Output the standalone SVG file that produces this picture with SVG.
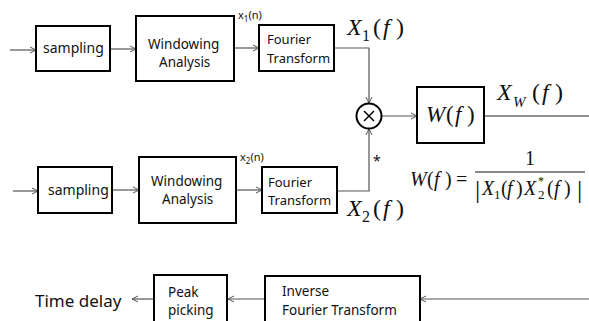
<svg xmlns="http://www.w3.org/2000/svg" width="589" height="321" viewBox="0 0 589 321">
<style>
.box{fill:#fff;stroke:#000;stroke-width:2}
.lbl{font-family:"Noto Sans","Open Sans",sans-serif;fill:#111}
.con{fill:none;stroke:#555;stroke-width:1.2}
.m{font-family:"Liberation Serif","Times New Roman",serif;fill:#111}
.i{font-style:italic}
</style>
<defs>
<marker id="ah" markerWidth="8" markerHeight="8" refX="7" refY="4" orient="auto" markerUnits="userSpaceOnUse">
<path d="M1,1 L7,4 L1,7" fill="none" stroke="#555" stroke-width="1"/>
</marker>
</defs>
<rect width="589" height="321" fill="#fff"/>
<g id="connectors">
<line class="con" x1="10" y1="50" x2="36" y2="50" marker-end="url(#ah)"/>
<line class="con" x1="110" y1="49" x2="136" y2="49" marker-end="url(#ah)"/>
<line class="con" x1="234" y1="48" x2="259" y2="48" marker-end="url(#ah)"/>
<polyline class="con" points="334,48 369,48 369,103" marker-end="url(#ah)"/>
<line class="con" x1="382" y1="116" x2="417" y2="116" marker-end="url(#ah)"/>
<line x1="484" y1="116" x2="589" y2="116" stroke="#222" stroke-width="1.2"/>
<line class="con" x1="13" y1="191" x2="38" y2="191" marker-end="url(#ah)"/>
<line class="con" x1="112" y1="190" x2="139" y2="190" marker-end="url(#ah)"/>
<line class="con" x1="236" y1="190" x2="262" y2="190" marker-end="url(#ah)"/>
<polyline class="con" points="337,191 369,191 369,129" marker-end="url(#ah)"/>
<line class="con" x1="589" y1="299" x2="420" y2="299" stroke="#888" marker-end="url(#ah)"/>
<line class="con" x1="265" y1="299" x2="228" y2="299" marker-end="url(#ah)"/>
<line class="con" x1="154" y1="299" x2="132" y2="299" marker-end="url(#ah)"/>
</g>
<g id="sampling1"><rect class="box" x="36" y="26" width="74" height="45"/><text class="lbl" x="43" y="53" font-size="14">sampling</text></g>
<g id="window1"><rect class="box" x="136" y="16" width="98" height="65"/><text class="lbl" x="148" y="49" font-size="13.5">Windowing</text><text class="lbl" x="159" y="67" font-size="13.5">Analysis</text></g>
<g id="x1n"><text class="lbl" x="238" y="19" font-size="11">x<tspan font-size="8" dy="3">1</tspan><tspan dy="-3">(n)</tspan></text></g>
<g id="ft1"><rect class="box" x="259" y="25" width="75" height="46"/><text class="lbl" x="267" y="44" font-size="13">Fourier</text><text class="lbl" x="267" y="63" font-size="13">Transform</text></g>
<g id="X1f"><text class="m" font-size="24" y="35"><tspan class="i" x="347">X</tspan><tspan x="362" y="41" font-size="16">1</tspan><tspan x="373" y="35">(</tspan><tspan class="i" x="383">f</tspan><tspan x="396">)</tspan></text></g>
<g id="mult"><circle cx="369" cy="116" r="12.5" fill="#fff" stroke="#000" stroke-width="2"/><line x1="364" y1="111" x2="374" y2="121" stroke="#000" stroke-width="1.5"/><line x1="374" y1="111" x2="364" y2="121" stroke="#000" stroke-width="1.5"/></g>
<g id="wbox"><rect class="box" x="417" y="87" width="67" height="56"/><text class="m" font-size="23" y="122"><tspan class="i" x="426">W</tspan><tspan x="446">(</tspan><tspan class="i" x="455">f</tspan><tspan x="467">)</tspan></text></g>
<g id="XWf"><text class="m" font-size="24" y="100"><tspan class="i" x="497">X</tspan><tspan class="i" x="513" y="107" font-size="15">W</tspan><tspan x="532" y="100">(</tspan><tspan class="i" x="542">f</tspan><tspan x="555">)</tspan></text></g>
<g id="sampling2"><rect class="box" x="38" y="167" width="74" height="46"/><text class="lbl" x="48" y="195" font-size="14">sampling</text></g>
<g id="window2"><rect class="box" x="139" y="157" width="97" height="66"/><text class="lbl" x="151" y="186" font-size="13.5">Windowing</text><text class="lbl" x="162" y="204" font-size="13.5">Analysis</text></g>
<g id="x2n"><text class="lbl" x="240" y="161" font-size="11">x<tspan font-size="8" dy="3">2</tspan><tspan dy="-3">(n)</tspan></text></g>
<g id="ft2"><rect class="box" x="262" y="167" width="75" height="46"/><text class="lbl" x="268" y="187" font-size="13">Fourier</text><text class="lbl" x="268" y="205" font-size="13">Transform</text></g>
<g id="star"><text class="lbl" x="373" y="166" font-size="14">*</text></g>
<g id="X2f"><text class="m" font-size="24" y="216"><tspan class="i" x="347">X</tspan><tspan x="362" y="222" font-size="16">2</tspan><tspan x="373" y="216">(</tspan><tspan class="i" x="383">f</tspan><tspan x="396">)</tspan></text></g>
<g id="formula">
<text class="m" font-size="20" y="186"><tspan class="i" x="410">W</tspan><tspan x="427">(</tspan><tspan class="i" x="434">f</tspan><tspan x="445">)</tspan><tspan x="456">=</tspan></text>
<text class="m" font-size="20" x="525" y="165">1</text>
<line x1="475" y1="172" x2="585" y2="172" stroke="#111" stroke-width="1"/>
<text class="m" font-size="26" x="475" y="198">|</text>
<text class="m" font-size="20" y="195"><tspan class="i" x="482">X</tspan><tspan x="494" y="199" font-size="13">1</tspan><tspan x="501" y="195">(</tspan><tspan class="i" x="507">f</tspan><tspan x="516">)</tspan><tspan class="i" x="524">X</tspan><tspan x="538" y="185" font-size="12">*</tspan><tspan x="538" y="199" font-size="13">2</tspan><tspan x="547" y="195">(</tspan><tspan class="i" x="554">f</tspan><tspan x="564">)</tspan></text>
<text class="m" font-size="26" x="577" y="198">|</text>
</g>
<g id="peak"><rect class="box" x="154" y="275" width="73" height="60"/><text class="lbl" x="168" y="297" font-size="13.5">Peak</text><text class="lbl" x="168" y="315" font-size="13.5">picking</text></g>
<g id="ifft"><rect class="box" x="265" y="276" width="155" height="60"/><text class="lbl" x="282" y="296" font-size="13.5">Inverse</text><text class="lbl" x="282" y="315" font-size="13.5">Fourier Transform</text></g>
<g id="timedelay"><text class="lbl" x="35" y="307" font-size="17">Time delay</text></g>
</svg>
